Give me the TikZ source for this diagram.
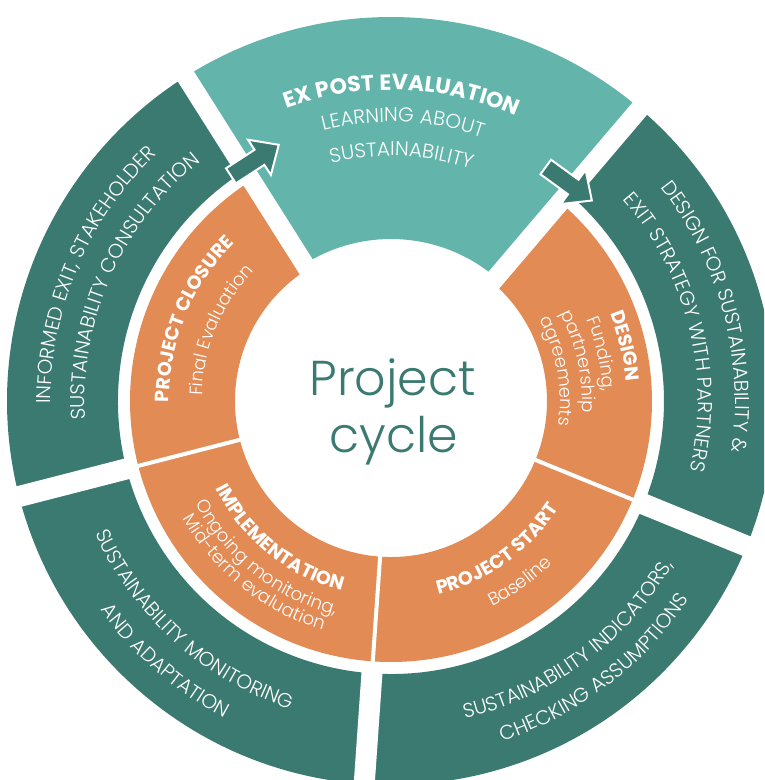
\documentclass[tikz,border=0pt]{standalone}
\usepackage{fontspec}
\setmainfont{Poppins}
\newfontfamily\lightcaps{Poppins}[UprightFont=* Light, LetterSpace=10, WordSpace=0.8]
\newfontfamily\lightlc{Poppins}[UprightFont=* Light, LetterSpace=3]
\newfontfamily\lightplain{Poppins}[UprightFont=* Light]
\newfontfamily\boldsp{Poppins}[UprightFont=* Bold, LetterSpace=2]
\usetikzlibrary{decorations.text}
\definecolor{dkgreen}{HTML}{3B7A70}
\definecolor{tealc}{HTML}{63B5AC}
\definecolor{orng}{HTML}{E28B55}
\newcommand\exfont{\boldsp\fontsize{22}{24}\selectfont}
\newcommand\hdfont{\boldsp\fontsize{19}{20}\selectfont}
\newcommand\txfont{\lightcaps\fontsize{20}{22}\selectfont}
\newcommand\lcfont{\lightlc\fontsize{18}{20}\selectfont}
% clockwise arc text, letter tops outward: radius, mid angle, text
\newcommand\cwtext[3]{%
  \path[decorate, decoration={text along path, text align=center, text color=white, text={#3}}]
    ({#2+60}:#1pt) arc[start angle={#2+60}, end angle={#2-60}, radius=#1pt];}
% counter-clockwise arc text, letter tops inward
\newcommand\ccwtext[3]{%
  \path[decorate, decoration={text along path, text align=center, text color=white, text={#3}}]
    ({#2-60}:#1pt) arc[start angle={#2-60}, end angle={#2+60}, radius=#1pt];}
\tikzset{
  gapline/.style={white, line width=#1},
  arrowshape/.style={fill=dkgreen, draw=white, line width=2pt, line join=miter},
  centertext/.style={text=dkgreen, font=\lightplain\fontsize{49}{52}\selectfont, inner sep=0pt, anchor=base}
}
\begin{document}
\begin{tikzpicture}[x=1pt,y=1pt]
\useasboundingbox (-391,-379) rectangle (373,401);
\clip (-391,-379) rectangle (373,401);
% outer green ring
\fill[dkgreen] (122.3:273pt) arc[start angle=122.3, end angle=409.6, radius=273pt]
  -- (409.6:384pt) arc[start angle=409.6, end angle=122.3, radius=384pt] -- cycle;
% inner orange ring
\fill[orng] (122.3:156pt) arc[start angle=122.3, end angle=409.6, radius=156pt]
  -- (409.6:261pt) arc[start angle=409.6, end angle=122.3, radius=261pt] -- cycle;
% teal ex post sector
\fill[tealc] (49.6:162pt) arc[start angle=49.6, end angle=122.3, radius=162pt]
  -- (122.3:384pt) arc[start angle=122.3, end angle=49.6, radius=384pt] -- cycle;
% white gaps
\foreach \a in {49.6,122.3} \draw[gapline=19pt] (\a:100pt) -- (\a:420pt);
\foreach \a in {194.4,266,337.8} {
  \draw[gapline=21pt] (\a:266pt) -- (\a:420pt);
  \draw[gapline=4pt] (\a:140pt) -- (\a:267pt);
}
% arrows
\begin{scope}[shift={(119.6:276.5pt)}, rotate=33]
  \draw[arrowshape] (-28,-9) -- (6,-9) -- (6,-21) -- (29,0) -- (6,21) -- (6,9) -- (-28,9) -- cycle;
\end{scope}
\begin{scope}[shift={(50.8:280.7pt)}, rotate=-36]
  \draw[arrowshape] (-28,-9) -- (6,-9) -- (6,-21) -- (29,0) -- (6,21) -- (6,9) -- (-28,9) -- cycle;
\end{scope}
% teal texts
\cwtext{311}{88}{|\exfont|EX POST EVALUATION}
\cwtext{279}{87.5}{|\txfont|LEARNING ABOUT}
\cwtext{245}{87.5}{|\txfont|SUSTAINABILITY}
% green texts
\cwtext{340}{157}{|\txfont|INFORMED EXIT{,} STAKEHOLDER}
\cwtext{306}{156}{|\txfont|SUSTAINABILITY CONSULTATION}
\cwtext{344}{15}{|\txfont|DESIGN FOR SUSTAINABILITY {\&}}
\cwtext{307}{14}{|\txfont|EXIT STRATEGY WITH PARTNERS}
\ccwtext{326}{306.5}{|\txfont|SUSTAINABILITY INDICATORS{,}}
\ccwtext{358}{307.3}{|\txfont|CHECKING ASSUMPTIONS}
\ccwtext{324}{228}{|\txfont|SUSTAINABILITY MONITORING}
\ccwtext{358}{229}{|\txfont|AND ADAPTATION}
% orange texts
\cwtext{222}{157.5}{|\hdfont|PROJECT CLOSURE}
\cwtext{189}{157.5}{|\lcfont|Final Evaluation}
\cwtext{236}{13.3}{|\hdfont|DESIGN}
\cwtext{212}{12.5}{|\lcfont|Funding{,}}
\cwtext{191}{11.9}{|\lcfont|partnership}
\cwtext{169}{10.3}{|\lcfont|agreements}
\ccwtext{196}{231}{|\hdfont|IMPLEMENTATION}
\ccwtext{221}{231.5}{|\lcfont|Ongoing monitoring{,}}
\ccwtext{239}{231.5}{|\lcfont|Mid-term evaluation}
\ccwtext{199}{305.5}{|\hdfont|PROJECT START}
\ccwtext{229}{305.5}{|\lcfont|Baseline}
% centre
\node[centertext] (proj) at (1.5,6) {Project};
\node[centertext] (cyc) at (3,-51) {cycle};
\end{tikzpicture}
\end{document}
